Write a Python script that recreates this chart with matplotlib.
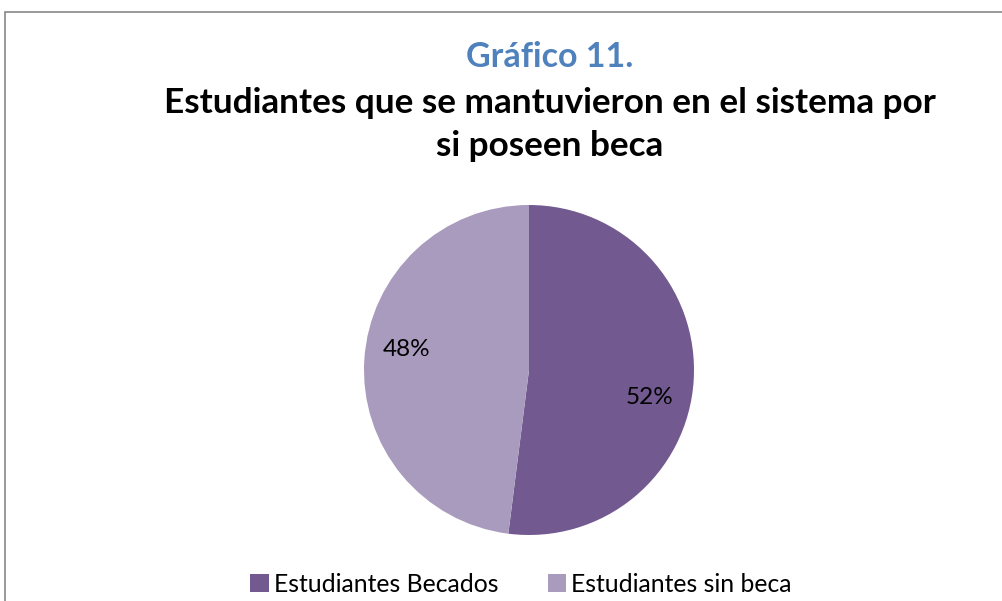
import matplotlib
matplotlib.use("Agg")
import matplotlib.pyplot as plt
from matplotlib.patches import Rectangle

categories = ["Estudiantes Becados", "Estudiantes sin beca"]
values = [52, 48]
colors = ["#725990", "#A99BBD"]
pct_labels = ["52%", "48%"]

W, H = 1002, 601
fig = plt.figure(figsize=(W/100, H/100), dpi=100)
fig.patch.set_facecolor("white")
font = "Lato"

# frame
fig.add_artist(Rectangle((5/W, -0.01), 1.2, 1 - 12/H + 0.01, transform=fig.transFigure,
                         fill=False, edgecolor="#888888", linewidth=1.2))

fig.text(550/W, 1 - 57/H, "Gráfico 11.", ha="center", va="center", fontsize=24.5,
         fontweight="bold", color="#4F81BD", family=font)
fig.text(550/W, 1 - 103/H, "Estudiantes que se mantuvieron en el sistema por", ha="center",
         va="center", fontsize=25.3, fontweight="bold", color="black", family=font)
fig.text(550/W, 1 - 146/H, "si poseen beca", ha="center",
         va="center", fontsize=25.3, fontweight="bold", color="black", family=font)

cx, cy, r = 529, 370, 165
ax = fig.add_axes([(cx - r)/W, 1 - (cy + r)/H, 2*r/W, 2*r/H])
wedges, _ = ax.pie(values, colors=colors, startangle=90, counterclock=False,
                   radius=1.0, wedgeprops=dict(linewidth=0))
ax.set_xlim(-1, 1)
ax.set_ylim(-1, 1)
ax.set_aspect("auto")
ax.axis("off")

label_pos = [(650, 397), (407, 349)]
for (px, py), t in zip(label_pos, pct_labels):
    fig.text(px/W, 1 - py/H, t, ha="center", va="center", fontsize=17.5, family=font, color="black")

leg = fig.legend(wedges, categories, loc="center", bbox_to_anchor=(521/W, 1 - 584/H),
                 ncol=2, frameon=False, handlelength=0.75, handleheight=0.75,
                 columnspacing=2.0, handletextpad=0.2, borderpad=0,
                 prop=dict(family=font, size=17.8))

fig.savefig("out.png", dpi=100, facecolor="white")
